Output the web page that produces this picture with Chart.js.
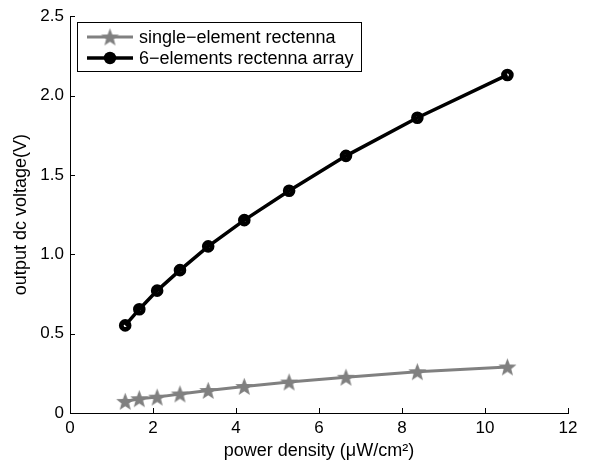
<!DOCTYPE html>
<html>
<head>
<meta charset="utf-8">
<script src="https://cdn.jsdelivr.net/npm/chart.js@4.4.1/dist/chart.umd.min.js"></script>
<style>
  html, body { margin: 0; padding: 0; background: #fff; }
  #wrap { width: 595px; height: 464px; position: relative; }
</style>
</head>
<body>
<div id="wrap"><canvas id="grafica" width="595" height="464"></canvas></div>
<script>
// datos
const potencia = [1.33, 1.67, 2.1, 2.65, 3.33, 4.2, 5.28, 6.65, 8.37, 10.54];
const vSimple = [0.073, 0.09, 0.10, 0.12, 0.142, 0.167, 0.195, 0.225, 0.26, 0.29];
const vArreglo = [0.552, 0.654, 0.771, 0.90, 1.05, 1.215, 1.40, 1.62, 1.86, 2.13];
const etiquetas = ["single\u2212element rectenna", "6\u2212elements rectenna array"];
const ticksX = [0, 2, 4, 6, 8, 10, 12];
const ticksY = [0, 0.5, 1.0, 1.5, 2.0, 2.5];

const gris = '#808080';
const familia = '"Liberation Sans", Arial, sans-serif';

// estrella rellena para los puntos
function estrella(r, color) {
    const c = document.createElement('canvas');
    c.width = c.height = Math.ceil(r * 2 + 2);
    const g = c.getContext('2d');
    const cx = c.width / 2, cy = c.height / 2 + 0.8;
    g.beginPath();
    for (let i = 0; i < 10; i++) {
        const rad = i % 2 === 0 ? r : r * 0.42;
        const a = -Math.PI / 2 + i * Math.PI / 5;
        g.lineTo(cx + rad * Math.cos(a), cy + rad * Math.sin(a));
    }
    g.closePath();
    g.fillStyle = color;
    g.fill();
    return c;
}
const star = estrella(9.5, gris);

const toXY = (xs, ys) => xs.map((x, i) => ({ x: x, y: ys[i] }));

const simple = {
    label: etiquetas[0],
    data: toXY(potencia, vSimple),
    borderColor: gris,
    backgroundColor: gris,
    borderWidth: 3,
    pointStyle: star,
    showLine: true,
};
const arreglo = {
    label: etiquetas[1],
    data: toXY(potencia, vArreglo),
    borderColor: '#000',
    backgroundColor: 'rgba(0,0,0,0)',
    borderWidth: 3.5,
    pointStyle: 'circle',
    pointRadius: 3.9,
    pointBorderWidth: 4.8,
    showLine: true,
};

// ticks hacia dentro y leyenda
const extras = {
    id: 'extras',
    afterDraw(chart) {
        const ctx = chart.ctx;
        const xs = chart.scales.x, ys = chart.scales.y;
        const a = chart.chartArea;
        ctx.save();
        ctx.strokeStyle = '#000';
        ctx.lineWidth = 1;
        ctx.beginPath();
        ticksX.forEach(v => {
            const px = Math.round(xs.getPixelForValue(v)) + 0.5;
            ctx.moveTo(px, a.bottom);
            ctx.lineTo(px, a.bottom - 5);
        });
        ticksY.forEach(v => {
            const py = Math.round(ys.getPixelForValue(v)) + 0.5;
            ctx.moveTo(a.left, py);
            ctx.lineTo(a.left + 5, py);
        });
        ctx.stroke();

        // leyenda
        const bx = 77.5, by = 22.5, bw = 284, bh = 49;
        ctx.fillStyle = '#fff';
        ctx.fillRect(bx, by, bw, bh);
        ctx.strokeRect(bx, by, bw, bh);
        const filas = [by + 14.5, by + 35.5];
        const ds = [simple, arreglo];
        ctx.font = '18px ' + familia;
        ctx.textBaseline = 'middle';
        ds.forEach((d, i) => {
            const y = filas[i];
            ctx.strokeStyle = d.borderColor;
            ctx.lineWidth = d.borderWidth;
            ctx.beginPath();
            ctx.moveTo(87, y);
            ctx.lineTo(133, y);
            ctx.stroke();
            if (i === 0) {
                ctx.drawImage(star, 110 - star.width / 2, y - star.height / 2);
            } else {
                ctx.fillStyle = '#000';
                ctx.beginPath();
                ctx.arc(110, y, 6.2, 0, Math.PI * 2);
                ctx.fill();
            }
            ctx.fillStyle = '#000';
            ctx.fillText(d.label, 139, y + 1);
        });
        ctx.restore();
    }
};

const fuente = { family: familia, size: 17 };

new Chart(document.querySelector('#grafica'), {
    type: 'scatter',
    data: { datasets: [simple, arreglo] },
    plugins: [extras],
    options: {
        responsive: false,
        animation: false,
        layout: { padding: { top: 15, right: 27, left: 0, bottom: 0 } },
        plugins: { legend: { display: false }, tooltip: { enabled: false } },
        scales: {
            x: {
                type: 'linear',
                min: 0, max: 12,
                afterFit: s => { s.height = 51; },
                afterBuildTicks: s => { s.ticks = ticksX.map(v => ({ value: v })); },
                grid: { display: false, drawTicks: false },
                border: { display: true, color: '#000', width: 1 },
                ticks: { color: '#000', font: fuente, padding: 5, maxRotation: 0 },
                title: {
                    display: true, text: 'power density (\u03bcW/cm\u00b2)', color: '#000',
                    font: { family: familia, size: 18 }, padding: { top: 0, bottom: 2 }
                }
            },
            y: {
                type: 'linear',
                min: 0, max: 2.5,
                afterFit: s => { s.width = 70; },
                afterBuildTicks: s => { s.ticks = ticksY.map(v => ({ value: v })); },
                grid: { display: false, drawTicks: false },
                border: { display: true, color: '#000', width: 1 },
                ticks: {
                    color: '#000', font: fuente, padding: 6,
                    callback: v => v === 0 ? '0' : v.toFixed(1)
                },
                title: {
                    display: true, text: 'output dc voltage(V)', color: '#000',
                    font: { family: familia, size: 18 }, padding: { top: 10, bottom: 0 }
                }
            }
        }
    }
});
</script>
</body>
</html>
